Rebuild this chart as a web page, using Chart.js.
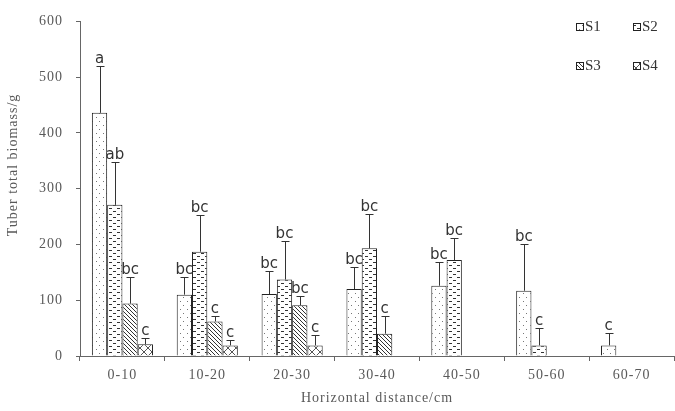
<!DOCTYPE html>
<html>
<head>
<meta charset="utf-8">
<script src="https://cdn.jsdelivr.net/npm/chart.js@4/dist/chart.umd.min.js"></script>
<style>
    html, body { margin: 0; padding: 0; background: #fff; }
    #wrap { width: 675px; height: 411px; }
</style>
</head>
<body>
<div id="wrap"><canvas id="chart"></canvas></div>
<script>
const categories = ['0-10', '10-20', '20-30', '30-40', '40-50', '50-60', '60-70'];
const yTicks = [0, 100, 200, 300, 400, 500, 600];
const yTitle = 'Tuber total biomass/g';
const xTitle = 'Horizontal distance/cm';

const s1 = [436, 110, 111, 120, 126, 117, 19];
const s2 = [271, 187, 137, 193, 172, 19, null];
const s3 = [94, 62, 91, 40, null, null, null];
const s4 = [21, 19, 19, null, null, null, null];

const s1Err = [84, 32, 42, 40, 42, 83, 22];
const s2Err = [77, 65, 70, 62, 40, 32, null];
const s3Err = [47, 10, 17, 32, null, null, null];
const s4Err = [11, 9, 19, null, null, null, null];

const s1Letters = ['a', 'bc', 'bc', 'bc', 'bc', 'bc', 'c'];
const s2Letters = ['ab', 'bc', 'bc', 'bc', 'bc', 'c', ''];
const s3Letters = ['bc', 'c', 'bc', 'c', '', '', ''];
const s4Letters = ['c', 'c', 'c', '', '', '', ''];

const serif = "'Liberation Serif', 'Times New Roman', serif";
const axisGrey = '#595959';

function makePattern(w, h, draw) {
    const c = document.createElement('canvas');
    c.width = w;
    c.height = h;
    const ctx = c.getContext('2d');
    ctx.fillStyle = '#fff';
    ctx.fillRect(0, 0, w, h);
    draw(ctx);
    return ctx.createPattern(c, 'repeat');
}

// dotted fill
const dots = makePattern(7, 8, ctx => {
    ctx.fillStyle = '#777';
    ctx.fillRect(1, 1, 1, 1);
    ctx.fillRect(5, 5, 1, 1);
});
// short dashes
const dashes = makePattern(8, 6, ctx => {
    ctx.fillStyle = '#333';
    ctx.fillRect(1, 1, 3, 1);
    ctx.fillRect(5, 4, 3, 1);
});
// downward diagonals
const diagonals = makePattern(4, 4, ctx => {
    ctx.fillStyle = '#333';
    for (let i = 0; i < 4; i++) ctx.fillRect(i, i, 1, 1);
});
// cross hatch
const crosses = makePattern(8, 8, ctx => {
    ctx.fillStyle = '#555';
    for (let i = 0; i < 8; i++) {
        ctx.fillRect(i, i, 1, 1);
        ctx.fillRect(7 - i, i, 1, 1);
    }
});

const series = [
    { label: 'S1', data: s1, err: s1Err, letters: s1Letters, fill: dots },
    { label: 'S2', data: s2, err: s2Err, letters: s2Letters, fill: dashes },
    { label: 'S3', data: s3, err: s3Err, letters: s3Letters, fill: diagonals },
    { label: 'S4', data: s4, err: s4Err, letters: s4Letters, fill: crosses },
];

// the serif axis text in the original is a little spread out
const tracking = {
    id: 'tracking',
    beforeDraw(chart) { chart.ctx.letterSpacing = '1px'; },
};

// y title sits above the middle of the axis in the original, so draw it by hand
const yAxisTitle = {
    id: 'yAxisTitle',
    afterDraw(chart) {
        const { ctx } = chart;
        ctx.save();
        ctx.letterSpacing = '1px';
        ctx.translate(13, 165);
        ctx.rotate(-Math.PI / 2);
        ctx.fillStyle = axisGrey;
        ctx.font = '14px ' + serif;
        ctx.textAlign = 'center';
        ctx.textBaseline = 'middle';
        ctx.fillText(yTitle, 0, 0);
        ctx.restore();
    },
};

const errorBars = {
    id: 'errorBars',
    afterDatasetsDraw(chart) {
        const { ctx } = chart;
        const y = chart.scales.y;
        ctx.save();
        ctx.letterSpacing = '0px';
        chart.data.datasets.forEach((ds, di) => {
            const meta = chart.getDatasetMeta(di);
            meta.data.forEach((bar, i) => {
                const v = ds.data[i];
                const e = ds.err[i];
                if (v == null || e == null) return;
                const top = Math.round(y.getPixelForValue(v + e)) + 0.5;
                const x = Math.round(bar.x) + 0.5;
                ctx.strokeStyle = '#333';
                ctx.lineWidth = 1;
                ctx.beginPath();
                ctx.moveTo(x, bar.y);
                ctx.lineTo(x, top);
                ctx.moveTo(x - 4, top);
                ctx.lineTo(x + 4, top);
                ctx.stroke();

                const txt = ds.letters[i];
                if (txt) {
                    ctx.fillStyle = '#333';
                    ctx.font = "15px 'DejaVu Sans', Verdana, sans-serif";
                    ctx.textAlign = 'center';
                    ctx.textBaseline = 'alphabetic';
                    ctx.fillText(txt, bar.x, top - 4);
                }
            });
        });
        ctx.restore();
    },
};

const patternLegend = {
    id: 'patternLegend',
    afterDraw(chart) {
        const { ctx } = chart;
        const spots = [[576, 23], [633, 23], [576, 62], [633, 62]];
        ctx.save();
        ctx.letterSpacing = '0px';
        chart.data.datasets.forEach((ds, i) => {
            const [x, y] = spots[i];
            ctx.fillStyle = ds.backgroundColor;
            ctx.fillRect(x, y, 7, 7);
            ctx.strokeStyle = '#222';
            ctx.lineWidth = 1;
            ctx.strokeRect(x + 0.5, y + 0.5, 7, 7);
            ctx.fillStyle = '#333';
            ctx.font = '15px ' + serif;
            ctx.textAlign = 'left';
            ctx.textBaseline = 'middle';
            ctx.fillText(ds.label, x + 9, y + 4.5);
        });
        ctx.restore();
    },
};

new Chart(document.getElementById('chart'), {
    type: 'bar',
    data: {
        labels: categories,
        datasets: series.map(s => ({
            label: s.label,
            data: s.data,
            err: s.err,
            letters: s.letters,
            backgroundColor: s.fill,
            borderColor: '#222',
            borderWidth: 1,
            categoryPercentage: 0.72,
            barPercentage: 1,
        })),
    },
    options: {
        responsive: true,
        maintainAspectRatio: false,
        animation: false,
        layout: { padding: { top: 10, right: 1, left: 0, bottom: 0 } },
        plugins: {
            legend: { display: false },
            tooltip: { enabled: false },
        },
        scales: {
            x: {
                grid: { display: true, drawOnChartArea: false, color: '#666', tickLength: 5, offset: true },
                border: { color: '#666' },
                ticks: { color: axisGrey, font: { family: serif, size: 14 }, padding: 6 },
                title: {
                    display: true,
                    text: xTitle,
                    color: axisGrey,
                    font: { family: serif, size: 14 },
                    padding: { top: 2 },
                },
                afterFit(scale) { scale.height = 55; },
            },
            y: {
                min: 0,
                max: 600,
                afterBuildTicks(scale) { scale.ticks = yTicks.map(v => ({ value: v })); },
                grid: { display: true, drawOnChartArea: false, color: '#666', tickLength: 4 },
                border: { color: '#666' },
                ticks: { color: axisGrey, font: { family: serif, size: 14 }, padding: 13 },
                afterFit(scale) { scale.width = 80; },
            },
        },
    },
    plugins: [tracking, errorBars, patternLegend, yAxisTitle],
});
</script>
</body>
</html>
